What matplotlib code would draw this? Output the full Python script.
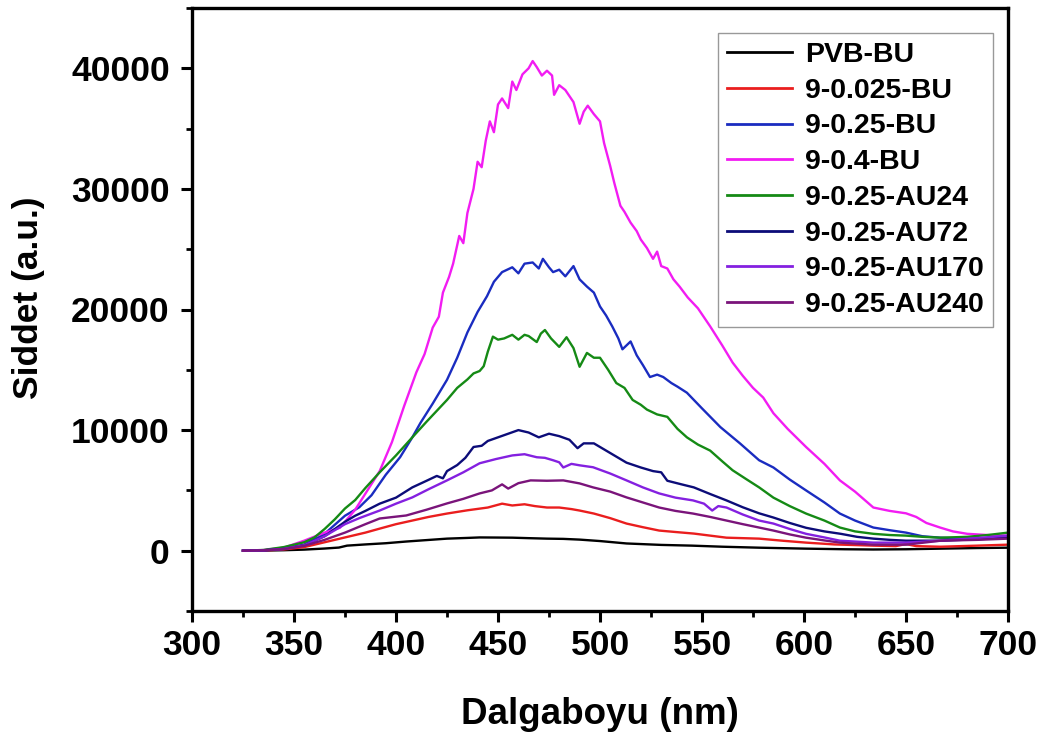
import matplotlib
matplotlib.use("Agg")
import matplotlib.pyplot as plt
from matplotlib.ticker import MultipleLocator

plt.rcParams['font.family'] = ['Liberation Sans', 'DejaVu Sans']
plt.rcParams['font.weight'] = 'bold'

labels = ["PVB-BU", "9-0.025-BU", "9-0.25-BU", "9-0.4-BU",
          "9-0.25-AU24", "9-0.25-AU72", "9-0.25-AU170", "9-0.25-AU240"]
colors = ["#000000", "#ea1e1e", "#1a2cc0", "#f21cf2",
          "#158a15", "#0c0c78", "#8420e0", "#7a147a"]

wl_pvb = [325, 335, 345, 355, 365, 372, 376, 385, 395, 405, 415, 425, 435, 441, 450, 457, 465, 474, 482, 490,
          500, 513, 530, 545, 560, 578, 601, 620, 634, 650, 667, 685, 700]
int_pvb = [0, 10, 40, 90, 180, 260, 420, 520, 620, 760, 880, 1000, 1060, 1100, 1090, 1080, 1040, 1000, 980, 920,
           800, 600, 480, 420, 330, 250, 170, 120, 100, 120, 170, 220, 250]

wl_r = [325, 335, 345, 355, 365, 375, 385, 392, 400, 408, 416, 425, 435, 445, 452, 457, 463, 468, 474, 480,
        486, 490, 497, 505, 513, 521, 529, 537, 546, 554, 562, 578, 590, 601, 615, 634, 645, 650, 655, 667, 685, 700]
int_r = [0, 20, 100, 300, 700, 1100, 1500, 1830, 2200, 2500, 2800, 3080, 3350, 3580, 3900, 3750, 3850, 3700, 3580, 3580,
         3450, 3330, 3080, 2700, 2250, 1950, 1670, 1550, 1420, 1250, 1080, 1000, 820, 670, 520, 420, 380, 550, 380, 330, 420, 500]

wl_b = [325, 335, 345, 355, 365, 375, 382, 388, 395, 402, 408, 412, 418, 425, 430, 435, 440, 444.6, 448, 452,
        457, 460, 463, 467, 470, 472, 475, 477, 480, 483, 487, 490, 493.6, 497, 500, 503, 506, 509, 511, 515,
        518, 521, 524.5, 528, 531, 535, 538, 542.6, 550, 559, 568.6, 578, 585, 593, 601, 610, 617.6, 625, 634, 642,
        650, 658, 666.7, 680, 690, 700]
int_b = [0, 30, 200, 500, 1400, 2900, 3600, 4600, 6300, 7750, 9400, 10600, 12200, 14170, 16000, 18100, 19800, 21100, 22300, 23100,
         23500, 23000, 23800, 23900, 23400, 24200, 23500, 23100, 23300, 22750, 23600, 22500, 21900, 21400, 20250, 19500, 18600, 17600, 16700, 17350,
         16200, 15400, 14400, 14600, 14400, 13900, 13600, 13100, 11800, 10250, 8900, 7500, 6900, 5900, 5000, 4000, 3080, 2500, 1920, 1700,
         1500, 1200, 1080, 1000, 1050, 1100]

wl_m = [325, 335, 345, 355, 365, 372.5, 380, 386, 392, 398, 404, 410, 414, 418, 421, 423, 426, 428, 431, 433,
        435, 438, 440, 442, 444, 446, 448, 450, 452, 455, 457, 459, 462, 465, 467, 469, 471.5, 474, 476.5, 477.5,
        480, 483, 487, 490, 492, 494, 497, 500, 502, 505, 507, 510, 512, 515, 518, 520, 523, 526, 528, 530,
        533, 536, 539, 543, 548, 554, 560, 565, 570, 575, 580, 585, 592, 601, 610, 617.6, 625, 634, 642, 650,
        655, 660, 666.7, 673, 680, 690, 700]
int_m = [0, 50, 250, 830, 1500, 1900, 3400, 5000, 6600, 9000, 12000, 14800, 16300, 18500, 19400, 21400, 22700, 23800, 26100, 25500,
         28000, 30000, 32250, 31800, 34000, 35600, 34700, 37000, 37500, 36700, 38900, 38200, 39500, 40000, 40600, 40100, 39400, 39800, 39400, 37800,
         38600, 38200, 37200, 35400, 36400, 36900, 36200, 35600, 33800, 31900, 30500, 28600, 28100, 27200, 26500, 25800, 25100, 24200, 24800, 23600,
         23400, 22500, 21900, 21000, 20100, 18600, 17000, 15600, 14500, 13500, 12700, 11400, 10100, 8600, 7200, 5830, 4900, 3580, 3300, 3100,
         2800, 2300, 1920, 1600, 1400, 1300, 1250]

wl_g = [325, 335, 345, 355, 360, 365, 370, 375, 380, 385, 392, 400, 408, 415, 420, 425, 430, 435, 438, 441,
        443, 445, 447.5, 450, 453, 457, 460, 463, 465, 469, 471, 473, 476, 480, 483.6, 487, 490, 493.6, 497, 500,
        504, 508, 512, 516, 520, 523, 528, 533, 538, 542.6, 548, 554, 560, 565, 572, 578, 585, 593, 601, 610,
        617.6, 625, 634, 642, 650, 658, 667, 680, 690, 700]
int_g = [0, 60, 300, 700, 1100, 1800, 2600, 3500, 4200, 5200, 6500, 7900, 9400, 10700, 11600, 12500, 13500, 14200, 14700, 14900,
         15300, 16500, 17750, 17500, 17600, 17900, 17500, 17900, 17800, 17300, 18000, 18300, 17600, 16900, 17700, 16800, 15250, 16400, 16000, 16000,
         15000, 13900, 13500, 12500, 12100, 11700, 11300, 11100, 10100, 9400, 8800, 8300, 7400, 6670, 5900, 5250, 4400, 3700, 3080, 2500,
         1920, 1600, 1400, 1300, 1250, 1150, 1080, 1150, 1300, 1500]

wl_n = [325, 335, 345, 355, 365, 370, 375, 380, 385, 392, 400, 408, 415, 420, 423, 425, 430, 434, 438, 442,
        445, 450, 455, 460, 465, 470, 475, 480, 485, 489, 492, 497, 500, 505, 509, 513, 520, 526, 530, 533,
        540, 546, 554, 562, 570, 578, 585, 593, 601, 610, 618, 626, 634, 642, 650, 667, 685, 700]
int_n = [0, 30, 150, 450, 1200, 1800, 2400, 2900, 3300, 3900, 4400, 5250, 5800, 6200, 6000, 6600, 7100, 7700, 8600, 8700,
         9100, 9400, 9700, 10000, 9800, 9400, 9700, 9500, 9200, 8500, 8900, 8900, 8600, 8100, 7700, 7300, 6900, 6600, 6500, 5800,
         5500, 5250, 4700, 4170, 3600, 3100, 2750, 2300, 1900, 1600, 1400, 1150, 1000, 900, 830, 830, 950, 1080]

wl_v = [325, 335, 345, 355, 365, 370, 375, 382, 392, 400, 408, 416, 425, 433, 441, 449, 457, 463, 469, 473,
        477, 480, 482, 486, 490, 496.6, 505, 513, 521, 529, 537, 545.6, 551, 555, 558, 562, 570, 578, 585, 593,
        601, 610, 617.6, 634, 650, 667, 685, 700]
int_v = [0, 30, 150, 450, 1200, 1700, 2200, 2700, 3330, 3900, 4420, 5100, 5830, 6500, 7250, 7600, 7900, 8000, 7750, 7700,
         7500, 7330, 6900, 7200, 7080, 6920, 6400, 5830, 5250, 4750, 4400, 4170, 3900, 3330, 3700, 3580, 3000, 2500, 2250, 1800,
         1400, 1100, 830, 670, 670, 830, 1050, 1250]

wl_p = [325, 335, 345, 355, 365, 375, 385, 392, 405, 415, 425, 433, 441, 447, 452, 455, 460, 466, 474, 482,
        490, 496.6, 505, 513, 521, 529, 537, 545.6, 554, 562, 570, 578, 585, 593, 601, 610, 617.6, 634, 650, 667,
        685, 700]
int_p = [0, 30, 130, 400, 900, 1500, 2200, 2670, 2920, 3400, 3920, 4300, 4750, 5000, 5500, 5150, 5600, 5830, 5800, 5830,
         5580, 5250, 4900, 4420, 4000, 3580, 3300, 3080, 2800, 2500, 2200, 1920, 1670, 1350, 1080, 850, 670, 500, 500, 830,
         900, 1000]

series = [(wl_pvb, int_pvb), (wl_r, int_r), (wl_b, int_b), (wl_m, int_m),
          (wl_g, int_g), (wl_n, int_n), (wl_v, int_v), (wl_p, int_p)]

fig = plt.figure(figsize=(10.46, 7.36), dpi=100)
ax = fig.add_axes([192/1046, 1 - 611/736, (1008-192)/1046, (611-8)/736])

for (x, y), lab, c in zip(series, labels, colors):
    ax.plot(x, y, color=c, lw=1.7, label=lab)

ax.set_xlim(300, 700)
ax.set_ylim(-5000, 45000)
ax.xaxis.set_major_locator(MultipleLocator(50))
ax.xaxis.set_minor_locator(MultipleLocator(25))
ax.yaxis.set_major_locator(MultipleLocator(10000))
ax.yaxis.set_minor_locator(MultipleLocator(5000))

for s in ax.spines.values():
    s.set_linewidth(2.4)
ax.tick_params(which='major', direction='out', length=8, width=2.2, labelsize=25.5, pad=5,
               top=False, right=False)
ax.tick_params(which='minor', direction='out', length=4.5, width=2.0, top=False, right=False)
ax.tick_params(axis='y', which='major', pad=8)
for t in ax.get_xticklabels() + ax.get_yticklabels():
    t.set_fontweight('bold')

ax.set_xlabel("Dalgaboyu (nm)", fontsize=26.5, fontweight='bold', labelpad=25)
ax.set_ylabel("Siddet (a.u.)", fontsize=25.5, fontweight='bold')
ax.yaxis.set_label_coords(-0.180, 0.52)

leg = ax.legend(loc='upper right', bbox_to_anchor=(0.9816, 0.9585), borderaxespad=0,
                fontsize=20.5, frameon=True, fancybox=False, edgecolor='#808080',
                handlelength=2.3, handletextpad=0.45, labelspacing=0.34, borderpad=0.32)
leg.get_frame().set_linewidth(1.0)
for t in leg.get_texts():
    t.set_fontweight('bold')
for h in leg.get_lines():
    h.set_linewidth(2.0)

fig.savefig("out.png", dpi=100)
